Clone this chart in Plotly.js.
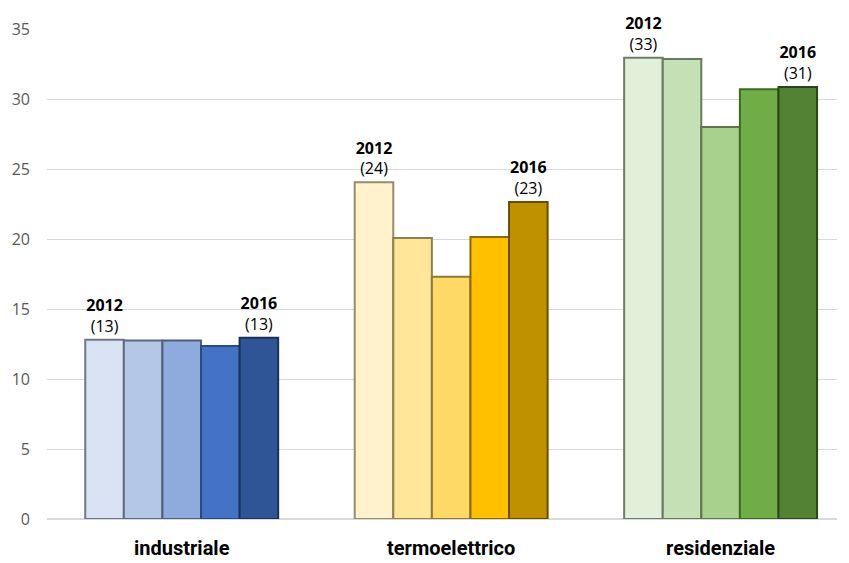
<!DOCTYPE html>
<html>
<head>
<meta charset="utf-8">
<script src="https://cdn.plot.ly/plotly-3.0.1.min.js"></script>
<style>html,body{margin:0;padding:0;background:#fff;}#chart{width:849px;height:563px;}</style>
</head>
<body>
<div id="chart"></div>
<script>
const categories = ["industriale", "termoelettrico", "residenziale"];
const years = ["2012", "2013", "2014", "2015", "2016"];
const v2012 = [12.8, 24.05, 32.95];
const v2013 = [12.75, 20.07, 32.85];
const v2014 = [12.75, 17.3, 28.0];
const v2015 = [12.35, 20.14, 30.7];
const v2016 = [12.95, 22.64, 30.85];
const yTicks = [0, 5, 10, 15, 20, 25, 30, 35];

const seriesValues = [v2012, v2013, v2014, v2015, v2016];
const palette = [
  ["#DAE3F3", "#FFF2CC", "#E2F0D9"],
  ["#B4C7E7", "#FFE699", "#C5E0B4"],
  ["#8FAADC", "#FFD966", "#A9D18E"],
  ["#4472C4", "#FFC000", "#70AD47"],
  ["#2F5597", "#BF9000", "#548235"]
];
const outline = [
  ["#6F7886", "#958C70", "#707C6A"],
  ["#5F6B7F", "#90814C", "#6A7A60"],
  ["#4E5E7C", "#8C7A3A", "#5E7450"],
  ["#2B4A80", "#8A6A00", "#3E6A20"],
  ["#1A3258", "#6A4C00", "#2A4619"]
];

const traces = seriesValues.map((vals, i) => {
  const labelled = (i === 0 || i === years.length - 1);
  return {
    type: "bar",
    name: years[i],
    x: categories,
    y: vals,
    text: vals.map(v => labelled ? "<b>" + years[i] + "</b><br>(" + Math.round(v) + ")" : ""),
    textposition: "outside",
    cliponaxis: false,
    constraintext: "none",
    outsidetextfont: {family: "Open Sans", size: 16, color: "#000"},
    marker: {color: palette[i], line: {color: outline[i], width: 2}},
    hoverinfo: "skip"
  };
});

const layout = {
  width: 849, height: 563,
  margin: {l: 47, r: 12, t: 29, b: 44},
  paper_bgcolor: "#fff", plot_bgcolor: "#fff",
  showlegend: false,
  barmode: "group",
  bargap: 0.284,
  bargroupgap: 0,
  font: {family: "Open Sans", color: "#595959"},
  xaxis: {
    type: "category",
    range: [-0.5, 2.432],
    showgrid: false, zeroline: false, showline: false,
    ticks: "",
    ticklabelstandoff: 15,
    tickfont: {family: "Roboto", size: 20, color: "#000", weight: "bold"}
  },
  yaxis: {
    range: [0, 35],
    tickvals: yTicks,
    ticktext: yTicks.map(String),
    showgrid: true, gridcolor: "#D9D9D9", gridwidth: 1,
    zeroline: true, zerolinecolor: "#D9D9D9", zerolinewidth: 1.5,
    showline: false, ticks: "",
    ticklabelstandoff: 16,
    tickfont: {family: "Open Sans", size: 16, color: "#595959"}
  }
};

Plotly.newPlot("chart", traces, layout, {displayModeBar: false, staticPlot: true});
</script>
</body>
</html>
